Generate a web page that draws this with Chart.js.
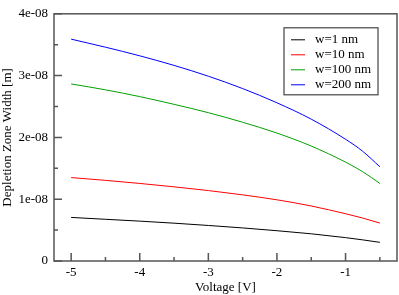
<!DOCTYPE html>
<html>
<head>
<meta charset="utf-8">
<script src="https://cdn.jsdelivr.net/npm/chart.js@4"></script>
<style>
body { margin: 0; background: #fff; }
</style>
</head>
<body>
<canvas id="chart" width="399" height="295"></canvas>
<script>
// Voltage [V] and depletion width [m]
const voltage = [-5, -4.5, -4, -3.5, -3, -2.5, -2, -1.5, -1, -0.75, -0.5];
const w1nm   = [0.705e-8, 0.675e-8, 0.645e-8, 0.612e-8, 0.575e-8, 0.535e-8, 0.49e-8, 0.44e-8, 0.378e-8, 0.342e-8, 0.302e-8];
const w10nm  = [1.35e-8, 1.305e-8, 1.255e-8, 1.20e-8, 1.14e-8, 1.07e-8, 0.99e-8, 0.89e-8, 0.765e-8, 0.695e-8, 0.614e-8];
const w100nm = [2.865e-8, 2.77e-8, 2.66e-8, 2.535e-8, 2.40e-8, 2.245e-8, 2.07e-8, 1.86e-8, 1.60e-8, 1.445e-8, 1.255e-8];
const w200nm = [3.59e-8, 3.46e-8, 3.32e-8, 3.165e-8, 2.99e-8, 2.79e-8, 2.56e-8, 2.295e-8, 1.97e-8, 1.775e-8, 1.525e-8];

const seriesLabels = ['w=1 nm', 'w=10 nm', 'w=100 nm', 'w=200 nm'];
const seriesColors = ['#000000', '#ff0000', '#00a000', '#0000ff'];

const xTicks = [-5, -4, -3, -2, -1];
const xMinorTicks = [-4.5, -3.5, -2.5, -1.5, -0.5];
const yTicks = [0, 1e-8, 2e-8, 3e-8, 4e-8];
const yTickLabels = ['0', '1e-08', '2e-08', '3e-08', '4e-08'];
const yMinorTicks = [0.5e-8, 1.5e-8, 2.5e-8, 3.5e-8];

const FONT = 'Liberation Serif';

function toPoints(ys) {
    return voltage.map((v, i) => ({ x: v, y: ys[i] }));
}

// frame + inward tick marks, grace style
const framePlugin = {
    id: 'frame',
    afterDraw(chart) {
        const ctx = chart.ctx;
        const a = chart.chartArea;
        const xs = chart.scales.x;
        const ys = chart.scales.y;
        ctx.save();
        ctx.strokeStyle = '#555';
        ctx.lineWidth = 1.5;
        ctx.strokeRect(a.left, a.top, a.right - a.left, a.bottom - a.top);
        ctx.beginPath();
        xTicks.forEach(v => {
            const px = xs.getPixelForValue(v);
            ctx.moveTo(px, a.bottom); ctx.lineTo(px, a.bottom - 8);
        });
        xMinorTicks.forEach(v => {
            const px = xs.getPixelForValue(v);
            ctx.moveTo(px, a.bottom); ctx.lineTo(px, a.bottom - 4);
        });
        yTicks.forEach(v => {
            const py = ys.getPixelForValue(v);
            ctx.moveTo(a.left, py); ctx.lineTo(a.left + 8, py);
        });
        yMinorTicks.forEach(v => {
            const py = ys.getPixelForValue(v);
            ctx.moveTo(a.left, py); ctx.lineTo(a.left + 4, py);
        });
        ctx.stroke();
        ctx.restore();
    }
};

// legend box in the upper right of the plot
const legendBox = {
    id: 'legendBox',
    afterDraw(chart) {
        const ctx = chart.ctx;
        const a = chart.chartArea;
        const boxW = 94, boxH = 67;
        const left = a.right - 113, top = a.top + 14;
        ctx.save();
        ctx.fillStyle = '#fff';
        ctx.fillRect(left, top, boxW, boxH);
        ctx.strokeStyle = '#444';
        ctx.lineWidth = 1.2;
        ctx.strokeRect(left, top, boxW, boxH);
        ctx.font = '13px "' + FONT + '"';
        ctx.textBaseline = 'middle';
        ctx.textAlign = 'left';
        chart.data.datasets.forEach((ds, i) => {
            const y = top + 12 + i * 15;
            ctx.strokeStyle = ds.borderColor;
            ctx.lineWidth = 1;
            ctx.beginPath();
            ctx.moveTo(left + 7, y); ctx.lineTo(left + 21, y);
            ctx.stroke();
            ctx.fillStyle = '#000';
            ctx.fillText(ds.label, left + 31, y);
        });
        ctx.restore();
    }
};

const datasets = [w1nm, w10nm, w100nm, w200nm].map((ys, i) => ({
    label: seriesLabels[i],
    data: toPoints(ys),
    borderColor: seriesColors[i],
    borderWidth: 1,
    pointRadius: 0,
    showLine: true,
    fill: false,
    cubicInterpolationMode: 'monotone'
}));

new Chart(document.getElementById('chart'), {
    type: 'scatter',
    data: { datasets: datasets },
    options: {
        responsive: false,
        devicePixelRatio: 1,
        animation: false,
        layout: { padding: { top: 5, right: 2, left: 0, bottom: 0 } },
        plugins: {
            legend: { display: false },
            tooltip: { enabled: false }
        },
        scales: {
            x: {
                type: 'linear',
                min: -5.25,
                max: -0.25,
                afterBuildTicks: scale => { scale.ticks = xTicks.map(v => ({ value: v })); },
                afterFit: scale => { scale.height = 34; },
                grid: { display: false, drawTicks: false },
                border: { display: false },
                ticks: {
                    padding: 4,
                    color: '#000',
                    font: { family: FONT, size: 13 },
                    callback: v => String(v)
                },
                title: {
                    display: true,
                    text: 'Voltage [V]',
                    color: '#000',
                    padding: 0,
                    font: { family: FONT, size: 13 }
                }
            },
            y: {
                type: 'linear',
                min: 0,
                max: 4e-8,
                afterBuildTicks: scale => { scale.ticks = yTicks.map(v => ({ value: v })); },
                afterFit: scale => { scale.width = 54; },
                grid: { display: false, drawTicks: false },
                border: { display: false },
                ticks: {
                    padding: 6,
                    color: '#000',
                    font: { family: FONT, size: 13 },
                    callback: (v, i) => yTickLabels[i]
                },
                title: {
                    display: true,
                    text: 'Depletion Zone Width [m]',
                    color: '#000',
                    padding: 0,
                    font: { family: FONT, size: 13 }
                }
            }
        }
    },
    plugins: [framePlugin, legendBox]
});
</script>
</body>
</html>
